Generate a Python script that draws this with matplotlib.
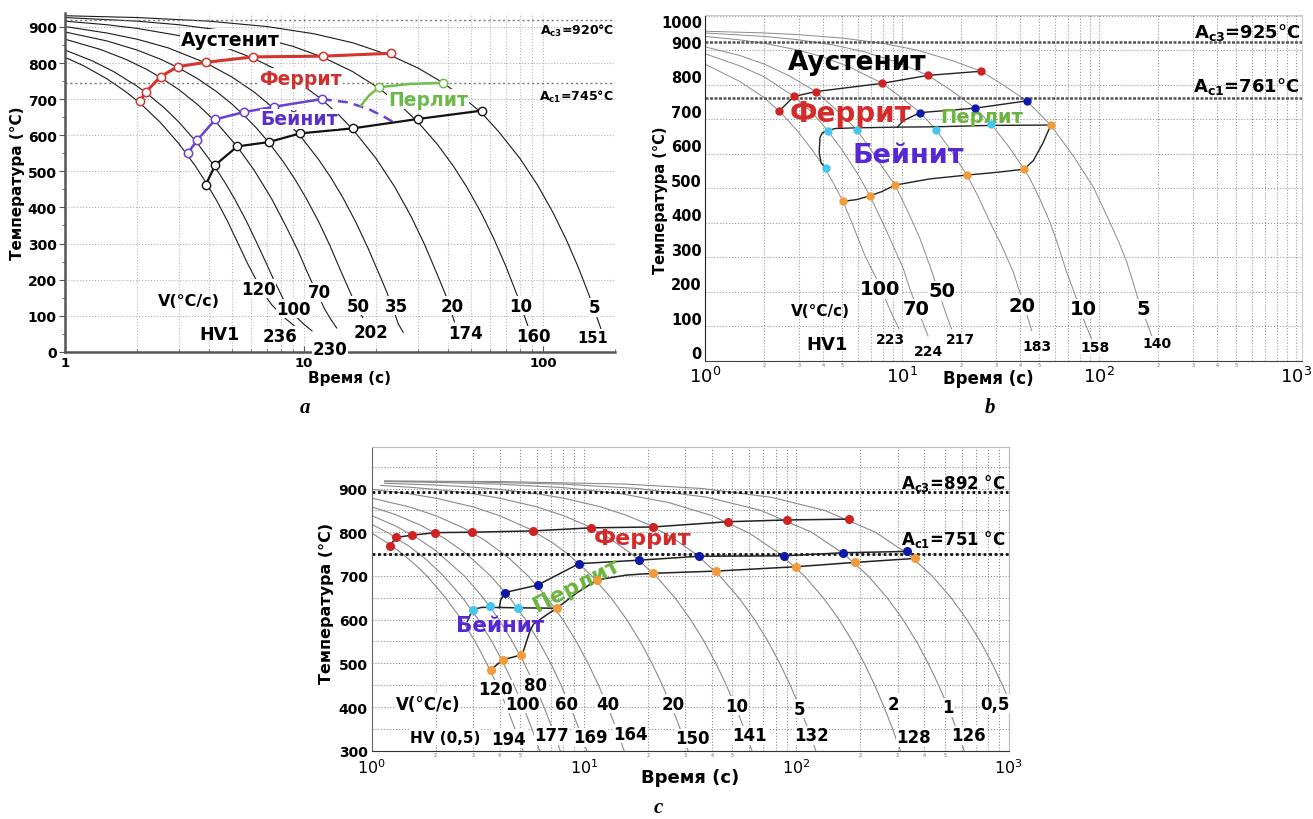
import numpy as np
import matplotlib
matplotlib.use('Agg')
import matplotlib.pyplot as plt
from matplotlib import ticker, transforms

plt.rcParams['font.family'] = ['DejaVu Sans']

# ======================= DATA: panel a =======================
a_rates = ['120', '100', '70', '50', '35', '20', '10', '5']
a_hv = ['236', '230', '202', '174', '160', '151']

a_t_v120 = [1, 1.2, 1.5, 1.8, 2.06, 2.5, 3.0, 3.5, 3.88, 4.31, 4.8, 5.3, 5.8, 6.24, 6.98, 7.33, 8.33, 9.26]
a_T_v120 = [816, 792, 756, 720, 689, 636, 576, 516, 470, 419, 360, 300, 245, 205, 150, 130, 93, 68]
a_t_v100 = [1, 1.3, 1.6, 2.0, 2.18, 2.6, 3.0, 3.58, 4.26, 4.7, 5.14, 5.7, 6.3, 6.9, 7.44, 8.19, 8.8, 9.3, 10.0, 10.8]
a_T_v100 = [836, 806, 776, 736, 718, 676, 636, 578, 510, 466, 422, 366, 306, 250, 202, 146, 118, 96, 76, 58]
a_t_v70 = [1, 1.4, 1.8, 2.2, 2.51, 3.0, 3.6, 4.26, 5.26, 6.2, 7.32, 8.4, 9.5, 10.2, 10.8, 11.5, 12.2, 13.0, 13.7]
a_T_v70 = [866, 838, 810, 782, 760, 726, 684, 638, 568, 502, 424, 348, 276, 228, 192, 155, 118, 88, 66]
a_t_v50 = [1, 1.5, 2, 2.5, 2.96, 3.6, 4.3, 5.0, 5.61, 6.3, 7.12, 8.2, 9.2, 10.26, 11.5, 12.8, 14.2, 15.6, 16.6, 17.6]
a_T_v50 = [886, 861, 836, 811, 788, 756, 721, 686, 655, 621, 580, 526, 476, 423, 361, 296, 226, 165, 125, 95]
a_t_v35 = [1, 1.5, 2, 2.7, 3.89, 5, 6.2, 7.51, 9.62, 11.5, 13, 14.6, 16.5, 18.5, 21.1, 22.2, 23.5, 24.8, 26.0]
a_T_v35 = [901, 883, 866, 842, 800, 761, 719, 673, 599, 533, 481, 425, 358, 288, 200, 165, 122, 77, 54]
a_t_v20 = [1, 1.5, 2, 3, 4, 5, 6.14, 8, 10, 11.86, 14, 16, 20, 24, 28, 32, 36, 39, 42.6]
a_T_v20 = [916, 906, 896, 876, 856, 836, 813, 776, 736, 699, 656, 616, 536, 456, 376, 296, 216, 160, 83]
a_t_v10 = [1, 2, 3, 4.5, 6.5, 9, 12, 16, 20.6, 25, 30, 36, 42, 48, 55, 62, 70, 78, 86.7]
a_T_v10 = [926, 916, 906, 891, 871, 846, 816, 776, 730, 686, 636, 576, 516, 456, 386, 316, 236, 156, 69]
a_t_v5 = [1, 2, 4, 7, 11, 16, 23.2, 30, 38, 46, 55.3, 65, 80, 95, 110, 125, 140, 155, 165, 175]
a_T_v5 = [931, 926, 916, 901, 881, 856, 820, 786, 746, 706, 662, 611, 536, 461, 386, 311, 236, 161, 111, 62]

a_ferrite_t = [2.06, 2.18, 2.51, 2.96, 3.89, 6.14, 12.0, 23.2]
a_ferrite_T = [694, 720, 762, 790, 802, 817, 819, 827]
a_bainite_t = [3.26, 3.58, 4.26, 5.61, 7.51, 11.86]
a_bainite_T = [550, 587, 644, 664, 679, 700]
a_bainite_dash_t = [11.86, 15.3, 18.7, 21.5, 23.7]
a_bainite_dash_T = [700, 691, 672, 652, 636]
a_pearlite_t = [17.3, 18.7, 20.6, 27.6, 38.0]
a_pearlite_T = [682, 710, 733, 742, 745]
a_pearlite_pts_t = [20.6, 38.0]
a_pearlite_pts_T = [733, 745]
a_finish_t = [3.88, 4.26, 5.26, 7.12, 9.62, 16.0, 30.0, 55.3]
a_finish_T = [463, 518, 569, 581, 605, 619, 645, 668]
a_Ac3, a_Ac1 = 920, 745

# ======================= DATA: panel b =======================
b_rates = ['100', '70', '50', '20', '10', '5']
b_hv = ['223', '224', '217', '183', '158', '140']

b_t_v100 = [1, 1.5, 2, 2.5, 3, 3.5, 4, 4.5, 5, 5.5, 6, 6.5, 7, 7.5, 8, 8.5, 9, 9.7]
b_T_v100 = [860, 810, 763, 712, 662, 612, 565, 515, 465, 410, 355, 305, 268, 234, 198, 162, 130, 92]
b_t_v70 = [1, 1.5, 2, 2.84, 3.5, 4.21, 5, 6, 6.9, 8.07, 9.06, 10.2, 11, 12.4, 13.6]
b_T_v70 = [890, 855, 823, 766, 720, 667, 610, 540, 478, 396, 333, 266, 208, 130, 72]
b_t_v50 = [1, 1.5, 2, 2.7, 3.66, 4.5, 5.91, 7, 8, 9.25, 10.8, 12.4, 13.9, 15.4, 16.9, 17.9]
b_T_v50 = [910, 885, 860, 825, 780, 735, 670, 610, 560, 509, 430, 353, 275, 200, 130, 92]
b_t_v20 = [1, 1.5, 2, 3, 4, 5.5, 7.97, 10, 12.4, 14.9, 18, 21.4, 24, 28.1, 32.2, 36.9, 41, 45.7]
b_T_v20 = [940, 930, 920, 900, 880, 850, 804, 762, 719, 670, 605, 538, 485, 401, 333, 256, 175, 87]
b_t_v10 = [1, 2, 3, 4.5, 6.5, 9.5, 13.6, 18, 23.6, 28.4, 35, 41.8, 44.8, 50, 56.6, 62, 68.8, 76, 83.5, 92]
b_T_v10 = [950, 940, 930, 915, 895, 865, 827, 782, 732, 686, 620, 555, 527, 472, 401, 337, 256, 190, 121, 63]
b_t_v5 = [1, 2, 3, 5, 8, 12, 18, 25.3, 33, 43.1, 57.1, 75, 93.9, 114, 127, 139, 151, 162, 175, 186]
b_T_v5 = [955, 950, 945, 935, 920, 900, 870, 839, 798, 753, 683, 590, 503, 401, 341, 285, 219, 159, 113, 72]

b_red_t = [2.38, 2.84, 3.66, 7.97, 13.6, 25.3]
b_red_T = [723, 766, 780, 804, 827, 839]
b_blue_t = [12.4, 23.6, 43.1]
b_blue_T = [719, 732, 753]
b_cyan_t = [4.21, 5.91, 14.9, 28.4, 4.11]
b_cyan_T = [667, 670, 670, 686, 559]
b_orange_t = [5.05, 6.9, 9.25, 21.4, 41.8, 57.1]
b_orange_T = [462, 478, 509, 538, 555, 683]
b_pearl_line_t = [9.5, 10.2, 12.4, 23.6, 43.1]
b_pearl_line_T = [677, 696, 719, 732, 753]
b_upper_line_t = [4.21, 4.6, 5.91, 9.5, 14.9, 28.4, 57.1]
b_upper_line_T = [667, 673, 675, 677, 678, 682, 683]
b_left_line_t = [4.21, 3.95, 3.85, 3.81, 3.9, 4.11]
b_left_line_T = [667, 660, 647, 604, 573, 559]
b_lower_line_t = [5.05, 5.91, 6.9, 7.92, 9.25, 13.9, 21.4, 30.4, 41.8, 46.6, 52.3, 57.1]
b_lower_line_T = [462, 467, 478, 490, 509, 527, 538, 546, 555, 580, 633, 683]
b_Ac3, b_Ac1 = 925, 761

# ======================= DATA: panel c =======================
c_rates = ['120', '100', '80', '60', '40', '20', '10', '5', '2', '1', '0,5']
c_hv = ['194', '177', '169', '164', '150', '141', '132', '128', '126']

c_t_v120 = [1, 1.2, 1.4, 1.6, 1.82, 2.23, 2.65, 3.07, 3.48, 3.9, 4.32, 4.73, 5.15, 5.25]
c_T_v120 = [798, 774, 750, 726, 700, 650, 600, 550, 500, 450, 400, 350, 300, 288]
c_t_v100 = [1, 1.2, 1.5, 1.8, 2.18, 2.68, 3.18, 3.68, 4.18, 4.68, 5.18, 5.68, 6.18, 6.3]
c_T_v100 = [818, 798, 768, 738, 700, 650, 600, 550, 500, 450, 400, 350, 300, 288]
c_t_v80 = [1, 1.3, 1.6, 2, 2.73, 3.35, 3.98, 4.6, 5.23, 5.85, 6.48, 7.1, 7.73, 7.9]
c_T_v80 = [838, 814, 790, 758, 700, 650, 600, 550, 500, 450, 400, 350, 300, 286]
c_t_v60 = [1, 1.3, 1.7, 2.2, 2.8, 3.63, 4.47, 5.3, 6.13, 6.97, 7.8, 8.63, 9.47, 10.3, 10.5]
c_T_v60 = [858, 840, 816, 786, 750, 700, 650, 600, 550, 500, 450, 400, 350, 300, 288]
c_t_v40 = [1, 1.5, 2, 2.7, 3.45, 4.45, 5.45, 6.7, 7.95, 9.2, 10.45, 11.7, 12.95, 14.2, 15.45, 15.75]
c_T_v40 = [878, 858, 838, 810, 780, 740, 700, 650, 600, 550, 500, 450, 400, 350, 300, 288]
c_t_v20 = [1, 1.5, 2, 3, 4, 5.5, 7, 8.4, 10.9, 13.4, 15.9, 18.4, 20.9, 23.4, 25.9, 28.4, 30.9, 31.5]
c_T_v20 = [898, 888, 878, 858, 838, 808, 778, 750, 700, 650, 600, 550, 500, 450, 400, 350, 300, 288]
c_t_v10 = [1.1, 1.5, 2, 3, 4, 6, 8, 10, 13, 16.8, 21.8, 26.8, 31.8, 36.8, 41.8, 46.8, 51.8, 56.8, 61.8, 63]
c_T_v10 = [907, 903, 898, 888, 878, 858, 838, 818, 788, 750, 700, 650, 600, 550, 500, 450, 400, 350, 300, 288]
c_t_v5 = [1.15, 2, 3, 4, 6, 8, 12, 16, 20, 26, 33.6, 43.6, 53.6, 63.6, 73.6, 83.6, 93.6, 103.6, 113.6, 123.6, 126]
c_T_v5 = [912, 908, 903, 898, 888, 878, 858, 838, 818, 788, 750, 700, 650, 600, 550, 500, 450, 400, 350, 300, 288]
c_t_v2 = [1.15, 2, 4, 8, 15, 25, 40, 60, 84, 109, 134, 159, 184, 209, 234, 259, 284, 309, 315]
c_T_v2 = [916, 914, 910, 902, 888, 868, 838, 798, 750, 700, 650, 600, 550, 500, 450, 400, 350, 300, 288]
c_t_v1 = [1.15, 3, 8, 18, 38, 68, 118, 168, 218, 268, 318, 368, 418, 468, 518, 568, 618, 630]
c_T_v1 = [917, 915, 910, 900, 880, 850, 800, 750, 700, 650, 600, 550, 500, 450, 400, 350, 300, 288]
c_t_v05 = [1.15, 4, 16, 36, 76, 136, 236, 336, 436, 536, 636, 736, 836, 936, 1000, 1100]
c_T_v05 = [917, 916, 910, 900, 880, 850, 800, 750, 700, 650, 600, 550, 500, 450, 418, 368]

c_red_t = [1.22, 1.30, 1.54, 1.99, 2.96, 5.77, 10.8, 21.2, 47.5, 90.1, 177]
c_red_T = [769, 788, 793, 799, 800, 803, 810, 812, 824, 828, 830]
c_blue_t = [4.24, 6.05, 9.47, 18.2, 34.9, 87.8, 166.5, 333]
c_blue_T = [662, 679, 728, 736, 745, 746, 753, 756]
c_cyan_t = [2.99, 3.61, 4.9]
c_cyan_T = [623, 630, 627]
c_orange_t = [3.64, 4.14, 5.05, 7.44, 11.55, 21.2, 41.7, 99.7, 190, 363]
c_orange_T = [485, 508, 519, 626, 691, 706, 711, 721, 731, 740]
c_blue_line_t = [3.99, 4.05, 4.24, 6.05, 9.47, 18.2, 34.9, 87.8, 166.5, 333]
c_blue_line_T = [627, 645, 662, 679, 728, 736, 745, 746, 753, 756]
c_cyan_line_t = [2.82, 2.99, 3.3, 3.61, 4.9, 7.44]
c_cyan_line_T = [596, 623, 628, 628, 627, 626]
c_orange_line_t = [3.64, 4.14, 5.05, 5.2, 5.37, 5.57, 5.77, 6.2, 6.67, 7.44, 9.24, 11.55, 15.9, 21.2, 41.7, 99.7, 190, 363]
c_orange_line_T = [485, 508, 519, 530, 551, 574, 589, 600, 611, 626, 661, 691, 702, 706, 711, 721, 731, 740]
c_Ac3, c_Ac1 = 892, 751

a_curves = [(a_t_v120, a_T_v120), (a_t_v100, a_T_v100), (a_t_v70, a_T_v70), (a_t_v50, a_T_v50),
            (a_t_v35, a_T_v35), (a_t_v20, a_T_v20), (a_t_v10, a_T_v10), (a_t_v5, a_T_v5)]
b_curves = [(b_t_v100, b_T_v100), (b_t_v70, b_T_v70), (b_t_v50, b_T_v50),
            (b_t_v20, b_T_v20), (b_t_v10, b_T_v10), (b_t_v5, b_T_v5)]
c_curves = [(c_t_v120, c_T_v120), (c_t_v100, c_T_v100), (c_t_v80, c_T_v80), (c_t_v60, c_T_v60),
            (c_t_v40, c_T_v40), (c_t_v20, c_T_v20), (c_t_v10, c_T_v10), (c_t_v5, c_T_v5),
            (c_t_v2, c_T_v2), (c_t_v1, c_T_v1), (c_t_v05, c_T_v05)]

# ======================= LAYOUT (label anchors, data coords) =======================
a_rate_pos = [(6.46, 174), (9.05, 119), (11.6, 165), (16.9, 128), (24.3, 128), (41.6, 128), (80.9, 128), (163.4, 124)]
a_hv_pos = [(7.94, 45), (12.8, 8), (19.1, 54), (47.2, 52), (91.4, 45), (161, 40)]
b_rate_pos = [(7.76, 208), (11.9, 150), (16.0, 203), (40.6, 161), (83.5, 150), (168, 150)]
b_hv_pos = [(8.72, 63), (13.6, 29), (19.8, 63), (48.4, 43), (95.8, 39), (197, 50)]
c_rate_pos = [(3.81, 441), (5.14, 407), (5.92, 451), (8.29, 407), (13.0, 407), (26.3, 407),
              (52.4, 403), (104, 396), (286, 407), (520, 399), (863, 407)]
c_hv_pos = [(4.43, 327), (7.05, 335), (10.7, 331), (16.5, 339), (32.3, 329), (60.5, 335),
            (118, 335), (356, 331), (646, 335)]

W, H = 1313, 820
fig = plt.figure(figsize=(W / 100, H / 100), dpi=100)


def box(l, r, top, bot):
    return [l / W, 1 - bot / H, (r - l) / W, (bot - top) / H]


RED, BLUE, CYAN, ORANGE = '#cf2222', '#0d1aa8', '#45c6ee', '#f29b3a'
TRED, TPUR, TGRN = '#d42b2b', '#5528d4', '#6bb43f'
WB = dict(facecolor='white', edgecolor='none', pad=0.4)


def minor_fmt(x, pos):
    m = int(round(x / 10 ** np.floor(np.log10(x) + 1e-9)))
    return str(m) if m in (2, 3, 4, 5) else ''


# ======================= PANEL a =======================
ax = fig.add_axes(box(65, 615, 14.2, 352.8))
ax.set_xscale('log')
ax.set_xlim(1, 200)
ax.set_ylim(0, 938)
ax.set_axisbelow(True)
ax.set_xticks([1, 10, 100], ['1', '10', '100'], fontsize=9.5, fontweight='bold')
ax.xaxis.set_minor_locator(ticker.LogLocator(base=10, subs=range(2, 10), numticks=20))
ax.xaxis.set_minor_formatter(ticker.NullFormatter())
ax.set_yticks(range(0, 901, 100), [str(v) for v in range(0, 901, 100)], fontsize=10, fontweight='bold')
ax.yaxis.set_minor_locator(ticker.MultipleLocator(50))
ax.grid(True, which='major', axis='y', ls=':', color='#b0b0b0', lw=0.8)
ax.grid(True, which='both', axis='x', ls=':', color='#b8b8b8', lw=0.8)
for s in ['top', 'right']:
    ax.spines[s].set_visible(False)
for s in ['left', 'bottom']:
    ax.spines[s].set_color('#555555')
    ax.spines[s].set_linewidth(1.8)
ax.tick_params(axis='x', which='both', direction='in', color='#555555', pad=3)
ax.tick_params(axis='x', which='major', length=4)
ax.tick_params(axis='x', which='minor', length=2.5)
ax.tick_params(axis='y', which='major', direction='out', length=4, color='#555555', pad=2)
ax.tick_params(axis='y', which='minor', direction='out', length=2, color='#555555')

for t, T in a_curves:
    ax.plot(t, T, color='#1a1a1a', lw=0.8, zorder=2)
ax.axhline(a_Ac3, color='#777777', ls=(0, (1.5, 2)), lw=1.0, zorder=2)
ax.axhline(a_Ac1, color='#777777', ls=(0, (1.5, 2)), lw=1.0, zorder=2)
ax.plot(a_ferrite_t, a_ferrite_T, color='#d4352e', lw=2.2, marker='o', ms=6, mfc='white', mec='#d4352e', mew=1.1, zorder=6)
ax.plot(a_bainite_t, a_bainite_T, color='#6a40d4', lw=1.8, marker='o', ms=6, mfc='white', mec='#6a40d4', mew=1.1, zorder=6)
ax.plot(a_bainite_dash_t, a_bainite_dash_T, color='#6a40d4', lw=1.8, ls=(0, (4, 2.5)), zorder=5)
ax.plot(a_pearlite_t, a_pearlite_T, color='#72bd4e', lw=1.8, zorder=5)
ax.plot(a_pearlite_pts_t, a_pearlite_pts_T, ls='none', marker='o', ms=6, mfc='white', mec='#72bd4e', mew=1.1, zorder=6)
ax.plot(a_finish_t, a_finish_T, color='#111111', lw=1.6, marker='o', ms=6, mfc='white', mec='#111111', mew=1.0, zorder=6)

ax.text(4.9, 866, 'Аустенит', fontsize=13.5, fontweight='bold', ha='center', va='center', bbox=WB, zorder=7)
ax.text(9.7, 758, 'Феррит', fontsize=13.5, fontweight='bold', color='#d0312d', ha='center', va='center', bbox=WB, zorder=7)
ax.text(9.53, 645, 'Бейнит', fontsize=13.5, fontweight='bold', color='#5b2fc9', ha='center', va='center', bbox=WB, zorder=7)
ax.text(33.0, 700, 'Перлит', fontsize=13.5, fontweight='bold', color='#6cb84a', ha='center', va='center', bbox=WB, zorder=7)
ax.text(198, 892, r'A$_{\mathbf{c3}}$=920°C', fontsize=9, fontweight='bold', ha='right', va='center', zorder=7)
ax.text(198, 709, r'A$_{\mathbf{c1}}$=745°C', fontsize=9, fontweight='bold', ha='right', va='center', zorder=7)
ax.text(3.30, 141, 'V(°C/с)', fontsize=11.5, fontweight='bold', ha='center', va='center', zorder=7)
ax.text(4.41, 49, 'HV1', fontsize=12.5, fontweight='bold', ha='center', va='center', zorder=7)
for lab, (x, y) in zip(a_rates, a_rate_pos):
    ax.text(x, y, lab, fontsize=12, fontweight='bold', ha='center', va='center', bbox=WB, zorder=7)
for lab, (x, y) in zip(a_hv, a_hv_pos):
    ax.text(x, y, lab, fontsize=12 if lab != '151' else 10.5, fontweight='bold', ha='center', va='center',
            bbox=WB, zorder=7, clip_on=False)
fig.text(18 / W, 1 - 183 / H, 'Температура (°C)', rotation=90, fontsize=11, fontweight='bold', ha='center', va='center')
fig.text(350 / W, 1 - 379 / H, 'Время (с)', fontsize=11, fontweight='bold', ha='center', va='center')

# ======================= PANEL b =======================
ax = fig.add_axes(box(704.7, 1302, 16, 361.7))
ax.set_xscale('log')
ax.set_xlim(1, 1076)
ax.set_ylim(0, 1002)
ax.set_axisbelow(True)
ax.set_xticks([1, 10, 100, 1000])
ax.xaxis.set_major_formatter(ticker.LogFormatterSciNotation())
ax.xaxis.set_minor_locator(ticker.LogLocator(base=10, subs=range(2, 10), numticks=20))
ax.xaxis.set_minor_formatter(ticker.FuncFormatter(minor_fmt))
ax.tick_params(axis='x', which='major', labelsize=13, length=0, pad=4)
ax.tick_params(axis='x', which='minor', labelsize=3.5, length=0, pad=1, labelcolor='#666666')
b_yticks = list(range(0, 1001, 100))
ax.set_yticks(b_yticks, [str(v) for v in b_yticks], fontsize=10.5, fontweight='bold')
ax.tick_params(axis='y', length=0, pad=2)
for lab, v in zip(ax.get_yticklabels(), b_yticks):
    dy = 0.085 if v < 1000 else -0.05
    lab.set_transform(lab.get_transform() + transforms.ScaledTranslation(0, dy, fig.dpi_scale_trans))
ax.grid(True, which='major', axis='y', ls=':', color='#9a9a9a', lw=0.8)
ax.grid(True, which='both', axis='x', ls=':', color='#9a9a9a', lw=0.8)
for s in ['top', 'right']:
    ax.spines[s].set_color('#cccccc')
ax.spines['left'].set_color('#222222')
ax.spines['bottom'].set_color('#444444')

for t, T in b_curves:
    ax.plot(t, T, color='#8a8a8a', lw=0.7, zorder=2)
ax.axhline(b_Ac3, color='#555555', ls=(0, (1.2, 0.6)), lw=1.8, zorder=2)
ax.axhline(b_Ac1, color='#555555', ls=(0, (1.2, 0.6)), lw=1.8, zorder=2)
for t, T in [(b_red_t, b_red_T), (b_pearl_line_t, b_pearl_line_T), (b_upper_line_t, b_upper_line_T),
             (b_left_line_t, b_left_line_T), (b_lower_line_t, b_lower_line_T)]:
    ax.plot(t, T, color='#222222', lw=1.0, zorder=3)
ax.plot(b_red_t, b_red_T, ls='none', marker='o', ms=5, color=RED, zorder=6)
ax.plot(b_blue_t, b_blue_T, ls='none', marker='o', ms=5, color=BLUE, zorder=6)
ax.plot(b_cyan_t, b_cyan_T, ls='none', marker='o', ms=5, color=CYAN, zorder=6)
ax.plot(b_orange_t, b_orange_T, ls='none', marker='o', ms=5, color=ORANGE, zorder=6)

ax.text(5.91, 865, 'Аустенит', fontsize=19, fontweight='bold', ha='center', va='center', zorder=5)
ax.text(5.47, 718, 'Феррит', fontsize=20, fontweight='bold', color=TRED, ha='center', va='center', zorder=5)
ax.text(25.5, 708, 'Перлит', fontsize=14, fontweight='bold', color=TGRN, ha='center', va='center', zorder=5)
ax.text(10.8, 597, 'Бейнит', fontsize=19.5, fontweight='bold', color=TPUR, ha='center', va='center', zorder=5)
ax.text(1050, 953, r'A$_{\mathbf{c3}}$=925°C', fontsize=13, fontweight='bold', ha='right', va='center', zorder=7)
ax.text(1050, 797, r'A$_{\mathbf{c1}}$=761°C', fontsize=13, fontweight='bold', ha='right', va='center', zorder=7)
ax.text(3.85, 145, 'V(°C/с)', fontsize=11, fontweight='bold', ha='center', va='center', zorder=7)
ax.text(4.16, 48, 'HV1', fontsize=13, fontweight='bold', ha='center', va='center', zorder=7)
for lab, (x, y) in zip(b_rates, b_rate_pos):
    ax.text(x, y, lab, fontsize=14, fontweight='bold', ha='center', va='center', bbox=WB, zorder=7)
for lab, (x, y) in zip(b_hv, b_hv_pos):
    ax.text(x, y, lab, fontsize=10, fontweight='semibold', ha='center', va='center',
            bbox=dict(facecolor='white', edgecolor='none', pad=0.2), zorder=7)
fig.text(661 / W, 1 - 200 / H, 'Температура (°C)', rotation=90, fontsize=10.5, fontweight='bold', ha='center', va='center', zorder=0)
fig.text(988 / W, 1 - 379 / H, 'Время (с)', fontsize=12, fontweight='bold', ha='center', va='center')

# ======================= PANEL c =======================
ax = fig.add_axes(box(371.7, 1008.6, 448, 751.7))
ax.set_xscale('log')
ax.set_xlim(1, 1000)
ax.set_ylim(300, 995)
ax.set_axisbelow(True)
ax.set_xticks([1, 10, 100, 1000])
ax.xaxis.set_major_formatter(ticker.LogFormatterSciNotation())
ax.xaxis.set_minor_locator(ticker.LogLocator(base=10, subs=range(2, 10), numticks=20))
ax.xaxis.set_minor_formatter(ticker.FuncFormatter(minor_fmt))
ax.tick_params(axis='x', which='major', labelsize=11.5, length=0, pad=5)
ax.tick_params(axis='x', which='minor', labelsize=3.5, length=0, pad=1, labelcolor='#666666')
ax.set_yticks(range(300, 901, 100), [str(v) for v in range(300, 901, 100)], fontsize=10, fontweight='bold')
ax.yaxis.set_minor_locator(ticker.MultipleLocator(50))
ax.tick_params(axis='y', which='both', length=0, pad=3)
ax.grid(True, which='both', axis='y', ls=':', color='#8c8c8c', lw=0.8)
ax.grid(True, which='both', axis='x', ls=':', color='#8c8c8c', lw=0.8)
for s in ['top', 'right']:
    ax.spines[s].set_color('#bbbbbb')
ax.spines['left'].set_color('#666666')
ax.spines['bottom'].set_color('#333333')

for t, T in c_curves:
    ax.plot(t, T, color='#8a8a8a', lw=0.8, zorder=2)
ax.axhline(c_Ac3, color='#111111', ls=(0, (1, 1)), lw=2.0, zorder=2)
ax.axhline(c_Ac1, color='#111111', ls=(0, (1, 1)), lw=2.0, zorder=2)
for t, T in [(c_red_t, c_red_T), (c_blue_line_t, c_blue_line_T), (c_cyan_line_t, c_cyan_line_T),
             (c_orange_line_t, c_orange_line_T)]:
    ax.plot(t, T, color='#222222', lw=1.1, zorder=3)
ax.plot(c_red_t, c_red_T, ls='none', marker='o', ms=5.5, color=RED, zorder=6)
ax.plot(c_blue_t, c_blue_T, ls='none', marker='o', ms=5.5, color=BLUE, zorder=6)
ax.plot(c_cyan_t, c_cyan_T, ls='none', marker='o', ms=5.5, color=CYAN, zorder=6)
ax.plot(c_orange_t, c_orange_T, ls='none', marker='o', ms=5.5, color=ORANGE, zorder=6)

ax.text(19.0, 786, 'Феррит', fontsize=16, fontweight='bold', color=TRED, ha='center', va='center', zorder=5)
ax.text(9.24, 679, 'Перлит', fontsize=16, fontweight='bold', color=TGRN, ha='center', va='center', rotation=27, zorder=5)
ax.text(4.02, 587, 'Бейнит', fontsize=15.5, fontweight='bold', color=TPUR, ha='center', va='center', zorder=5)
ax.text(965, 914, r'A$_{\mathbf{c3}}$=892 °C', fontsize=12, fontweight='bold', ha='right', va='center', zorder=7)
ax.text(965, 786, r'A$_{\mathbf{c1}}$=751 °C', fontsize=12, fontweight='bold', ha='right', va='center', zorder=7)
ax.text(1.85, 407, 'V(°C/с)', fontsize=12, fontweight='bold', ha='center', va='center', bbox=WB, zorder=7)
ax.text(2.21, 331, 'HV (0,5)', fontsize=11, fontweight='bold', ha='center', va='center', bbox=WB, zorder=7)
for lab, (x, y) in zip(c_rates, c_rate_pos):
    ax.text(x, y, lab, fontsize=12, fontweight='bold', ha='center', va='center', bbox=WB, zorder=7)
for lab, (x, y) in zip(c_hv, c_hv_pos):
    ax.text(x, y, lab, fontsize=12, fontweight='bold', ha='center', va='center', bbox=WB, zorder=7)
fig.text(326 / W, 1 - 603 / H, 'Температура (°C)', rotation=90, fontsize=11.5, fontweight='bold', ha='center', va='center')
fig.text(690 / W, 1 - 778 / H, 'Время (с)', fontsize=13, fontweight='bold', ha='center', va='center')

# ======================= captions =======================
for x, y, s in [(305, 408, 'a'), (990, 408, 'b'), (658, 808, 'c')]:
    fig.text(x / W, 1 - y / H, s, fontsize=15, style='italic', fontweight='bold',
             family=['Liberation Serif', 'DejaVu Serif'], ha='center', va='center')

fig.savefig('out.png', dpi=100, facecolor='white')
